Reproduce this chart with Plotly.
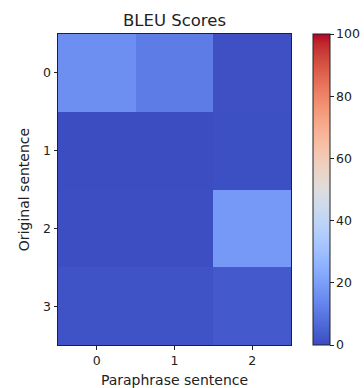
import plotly.graph_objects as go

paraphrase = [0, 1, 2]
original = [0, 1, 2, 3]
bleu = [
    [16.0, 11.0, 1.0],
    [0.3, 0.3, 0.8],
    [0.5, 0.5, 18.5],
    [1.5, 1.5, 3.0],
]
cbar_ticks = [0, 20, 40, 60, 80, 100]

coolwarm = [
    (59, 76, 192), (68, 90, 204), (77, 104, 215), (87, 117, 225), (98, 130, 234),
    (108, 142, 241), (119, 154, 247), (130, 165, 251), (141, 176, 254), (152, 185, 255),
    (163, 194, 255), (174, 201, 253), (184, 208, 249), (194, 213, 244), (204, 217, 238),
    (213, 219, 230), (221, 221, 221), (229, 216, 209), (236, 211, 197), (241, 204, 184),
    (245, 196, 173), (247, 187, 160), (247, 177, 148), (247, 166, 135), (244, 154, 123),
    (241, 141, 111), (236, 127, 99), (229, 112, 88), (222, 96, 77), (213, 80, 66),
    (203, 62, 56), (192, 40, 47), (180, 4, 38),
]
n = len(coolwarm) - 1
colorscale = [[i / n, f"rgb{c}"] for i, c in enumerate(coolwarm)]

font = "DejaVu Sans"
W, H = 364, 388
L, R, T, B = 58, 73, 34, 43
pw = W - L - R
TICK_SIZE = 12.5
LABEL_SIZE = 14
TITLE_SIZE = 16.5

fig = go.Figure(
    go.Heatmap(
        x=paraphrase,
        y=original,
        z=bleu,
        zmin=0,
        zmax=100,
        colorscale=colorscale,
        colorbar=dict(
            x=(313 - L) / pw,
            xanchor="left",
            xpad=0,
            ypad=0,
            y=0.5,
            yanchor="middle",
            len=1,
            lenmode="fraction",
            thickness=17,
            thicknessmode="pixels",
            outlinewidth=1,
            outlinecolor="#222",
            tickvals=cbar_ticks,
            ticks="outside",
            ticklen=3.5,
            tickcolor="#222",
            tickfont=dict(family=font, size=TICK_SIZE, color="#222"),
        ),
    )
)

axis_common = dict(
    showgrid=False,
    zeroline=False,
    showline=True,
    linecolor="#222",
    linewidth=1,
    mirror=True,
    ticks="outside",
    ticklen=3.5,
    tickcolor="#222",
    automargin=False,
    tickfont=dict(family=font, size=TICK_SIZE, color="#222"),
)

fig.update_xaxes(
    range=[-0.5, 2.5],
    tickvals=paraphrase,
    title=dict(text="Paraphrase sentence", font=dict(family=font, size=LABEL_SIZE, color="#222"), standoff=15),
    **axis_common,
)
fig.update_yaxes(
    range=[3.5, -0.5],
    tickvals=original,
    title=dict(text="Original sentence", font=dict(family=font, size=LABEL_SIZE, color="#222"), standoff=10),
    **axis_common,
)

fig.update_layout(
    width=W,
    height=H,
    margin=dict(l=L, r=R, t=T, b=B, autoexpand=False),
    paper_bgcolor="white",
    plot_bgcolor="white",
    title=dict(
        text="BLEU Scores",
        x=(L + pw / 2) / W,
        xanchor="center",
        y=1 - 20 / H,
        yanchor="middle",
        font=dict(family=font, size=TITLE_SIZE, color="#222"),
    ),
)

fig.write_html("out.html")
